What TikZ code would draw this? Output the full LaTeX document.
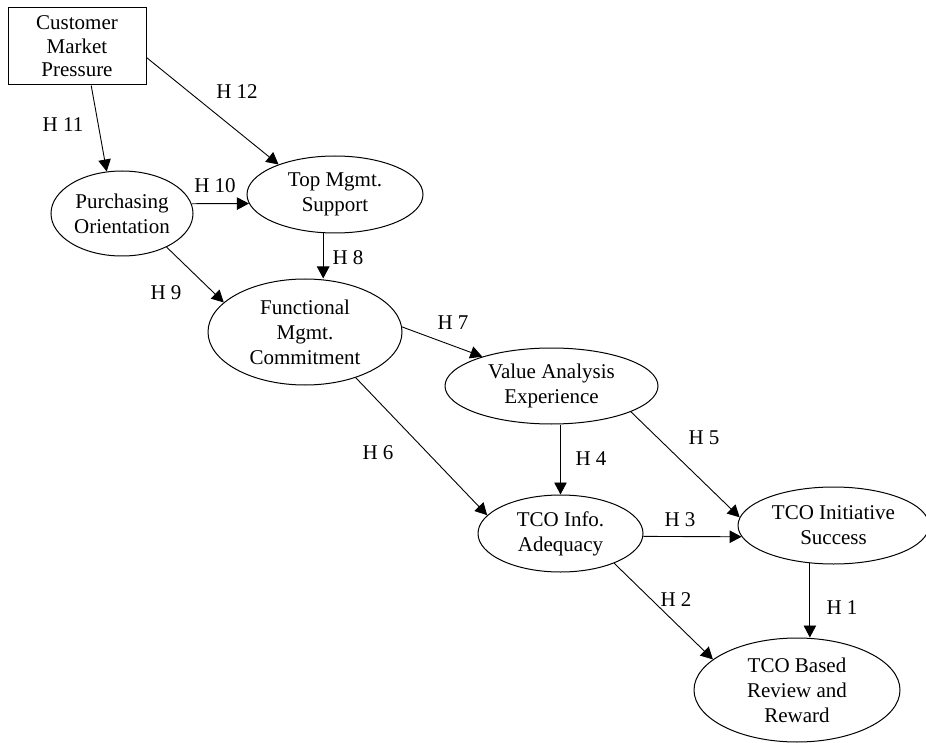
\documentclass[tikz,border=0pt]{standalone}
\usepackage{fontspec}
\setmainfont{Liberation Serif}
\usetikzlibrary{shapes.geometric,arrows.meta}
\begin{document}
\begin{tikzpicture}[x=1pt,y=-1pt,
  every node/.style={font=\fontsize{21}{25}\selectfont, align=center, inner sep=0pt},
  oval/.style={draw, line width=1pt, ellipse},
  boxnode/.style={draw, line width=1pt, rectangle, font=\fontsize{21}{23.5}\selectfont},
  arr/.style={draw, line width=0.9pt, -{Triangle[length=12pt,width=12.5pt]}},
  lab/.style={}]
\useasboundingbox (0,0) rectangle (926,743);

\node[boxnode, minimum width=138pt, minimum height=77pt] (cmp) at (77,46.5) {Customer\\Market\\Pressure};
\node[oval, minimum width=142pt, minimum height=85pt] (po) at (122,213.5) {Purchasing\\Orientation};
\node[oval, minimum width=176pt, minimum height=77pt] (tms) at (335,194.5) {Top Mgmt.\\Support};
\node[oval, minimum width=194pt, minimum height=106pt] (fmc) at (305,332) {Functional\\Mgmt.\\Commitment};
\node[oval, minimum width=213pt, minimum height=76pt] (vae) at (551.5,386) {Value Analysis\\Experience};
\node[oval, minimum width=165pt, minimum height=77pt] (tia) at (560.5,533.5) {TCO Info.\\Adequacy};
\node[oval, minimum width=191pt, minimum height=77pt] (tis) at (833.5,525.5) {TCO Initiative\\Success};
\node[oval, minimum width=206pt, minimum height=104pt] (tbr) at (797,690) {TCO Based\\Review and\\Reward};

% connectors
\draw[arr] (cmp.-70) -- (po.110);
\draw[arr] (cmp.-9.5) -- (tms.152);
\draw[arr] (po.8) -- (tms.186);
\draw[arr] (tms.-107) -- (tms.-107 |- fmc.north);
\draw[arr] (po.-37) -- (fmc.160);
\draw[arr] (fmc.3) -- (vae.157);
\draw[arr] (fmc.-42) -- (tia.166);
\draw[arr] (tia.north |- vae.south) -- (tia.north);
\draw[arr] (vae.-18) -- (tis.175);
\draw[arr] (tia.-2) -- (tis.187);
\draw[arr] (tia.-29) -- (tbr.160);
\draw[arr] (tis.-122) -- (tis.-122 |- tbr.north);

% labels
\node[lab] (l11) at (63,125) {H 11};
\node[lab] (l12) at (237,92) {H 12};
\node[lab] (l10) at (215,186) {H 10};
\node[lab] (l8) at (348,258) {H 8};
\node[lab] (l9) at (166,293) {H 9};
\node[lab] (l7) at (453,323) {H 7};
\node[lab] (l6) at (378,453) {H 6};
\node[lab] (l4) at (591,459) {H 4};
\node[lab] (l5) at (704,438) {H 5};
\node[lab] (l3) at (680,520) {H 3};
\node[lab] (l2) at (676,600) {H 2};
\node[lab] (l1) at (842,608) {H 1};
\end{tikzpicture}
\end{document}
